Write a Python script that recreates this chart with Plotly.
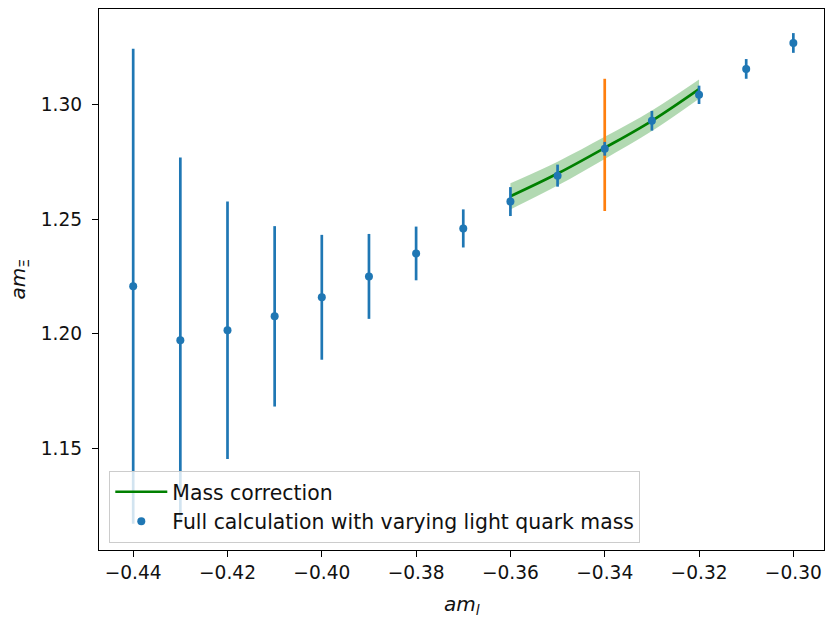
import plotly.graph_objects as go

# Full calculation data
ml = [-0.44, -0.43, -0.42, -0.41, -0.40, -0.39, -0.38, -0.37, -0.36, -0.35,
      -0.34, -0.33, -0.32, -0.31, -0.30]
m_xi = [1.2207, 1.1972, 1.2015, 1.2076, 1.2159, 1.2250, 1.2350, 1.2459, 1.2576,
        1.2689, 1.2806, 1.2928, 1.3041, 1.3154, 1.3267]
m_xi_err = [0.1035, 0.0796, 0.0561, 0.0393, 0.0272, 0.0185, 0.0117, 0.0083,
            0.0063, 0.0048, 0.0030, 0.0043, 0.0040, 0.0043, 0.0043]

# Mass correction curve
corr_ml = [-0.36, -0.35, -0.34, -0.33, -0.32]
corr_m = [1.2599, 1.2698, 1.2810, 1.2928, 1.3066]
corr_err = [0.0057, 0.0052, 0.0048, 0.0045, 0.0042]

# Reference point
ref_ml = [-0.34]
ref_m = [1.2823]
ref_err = [0.0288]

# Tick labels
x_ticks = [-0.44, -0.42, -0.40, -0.38, -0.36, -0.34, -0.32, -0.30]
x_ticktext = ["\u22120.44", "\u22120.42", "\u22120.40", "\u22120.38", "\u22120.36",
              "\u22120.34", "\u22120.32", "\u22120.30"]
y_ticks = [1.15, 1.20, 1.25, 1.30]
y_ticktext = ["1.15", "1.20", "1.25", "1.30"]

band_hi = [m + e for m, e in zip(corr_m, corr_err)]
band_lo = [m - e for m, e in zip(corr_m, corr_err)]

BLUE = "#1f77b4"
ORANGE = "#ff7f0e"
GREEN = "#008000"
FONT = "DejaVu Sans"
FS = 20
LEG_FS = 20.4
TICK_FS = 18.6
TXT = "#111111"

fig = go.Figure()

fig.add_trace(go.Scatter(x=corr_ml, y=band_lo, mode="lines", line=dict(width=0, shape="spline"),
                         showlegend=False, hoverinfo="skip"))
fig.add_trace(go.Scatter(x=corr_ml, y=band_hi, mode="lines", line=dict(width=0, shape="spline"),
                         fill="tonexty", fillcolor="rgba(0,128,0,0.3)",
                         showlegend=False, hoverinfo="skip"))
fig.add_trace(go.Scatter(x=corr_ml, y=corr_m, mode="lines", name="Mass correction",
                         line=dict(color=GREEN, width=2.7, shape="spline")))
fig.add_trace(go.Scatter(x=ref_ml, y=ref_m, mode="markers", showlegend=False,
                         marker=dict(size=1, color=ORANGE, opacity=0),
                         error_y=dict(type="data", array=ref_err, color=ORANGE,
                                      thickness=2.7, width=0)))
fig.add_trace(go.Scatter(x=ml, y=m_xi, mode="markers",
                         name="Full calculation with varying light quark mass",
                         marker=dict(size=8, color=BLUE),
                         error_y=dict(type="data", array=m_xi_err, color=BLUE,
                                      thickness=2.7, width=0)))

axis_common = dict(showline=True, linecolor="black", linewidth=1.3, mirror=True,
                   ticks="outside", ticklen=6, tickwidth=1.3, tickcolor="black",
                   showgrid=False, zeroline=False, automargin=False,
                   tickfont=dict(family=FONT, size=TICK_FS, color=TXT))

fig.update_layout(
    width=825, height=619,
    margin=dict(l=99, r=1, t=9, b=69),
    plot_bgcolor="white", paper_bgcolor="white",
    font=dict(family=FONT, size=FS, color=TXT),
    xaxis=dict(range=[-0.44725, -0.2935], tickvals=x_ticks, ticktext=x_ticktext,
               **axis_common),
    yaxis=dict(range=[1.1058, 1.3415], tickvals=y_ticks, ticktext=y_ticktext,
               ticklabelstandoff=6, **axis_common),
    legend=dict(x=0.0142, y=0.146, xanchor="left", yanchor="top",
                bgcolor="rgba(255,255,255,0.8)", bordercolor="#cccccc", borderwidth=1,
                font=dict(family=FONT, size=LEG_FS, color=TXT),
                traceorder="normal", tracegroupgap=0, itemwidth=52),
    showlegend=True,
    annotations=[
        dict(text="<i>am</i><sub><i>l</i></sub>", xref="paper", yref="paper",
             x=0.5, y=0, xanchor="center", yanchor="middle", yshift=-55,
             showarrow=False, font=dict(family=FONT, size=FS, color=TXT)),
        dict(text="<i>am</i><sub>\u039e</sub>", xref="paper", yref="paper",
             x=0, y=0.5, xanchor="center", yanchor="middle", xshift=-81,
             textangle=-90, showarrow=False,
             font=dict(family=FONT, size=FS, color=TXT)),
    ],
)

fig.write_html("out.html", config={"displayModeBar": False},
               post_script="document.body.style.margin='0';document.body.style.overflow='hidden';")
